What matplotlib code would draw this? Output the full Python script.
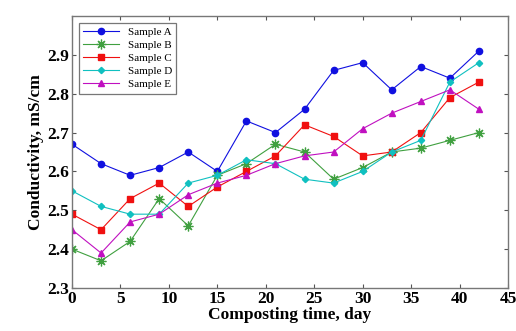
import numpy as np
import matplotlib
matplotlib.use('Agg')
import matplotlib.pyplot as plt

days = [0, 3, 6, 9, 12, 15, 18, 21, 24, 27, 30, 33, 36, 39, 42]
sample_a = [2.67, 2.62, 2.59, 2.61, 2.65, 2.60, 2.73, 2.70, 2.76, 2.86, 2.88, 2.81, 2.87, 2.84, 2.91]
sample_b = [2.40, 2.37, 2.42, 2.53, 2.46, 2.59, 2.62, 2.67, 2.65, 2.58, 2.61, 2.65, 2.66, 2.68, 2.70]
sample_c = [2.49, 2.45, 2.53, 2.57, 2.51, 2.56, 2.60, 2.64, 2.72, 2.69, 2.64, 2.65, 2.70, 2.79, 2.83]
sample_d = [2.55, 2.51, 2.49, 2.49, 2.57, 2.59, 2.63, 2.62, 2.58, 2.57, 2.60, 2.65, 2.68, 2.83, 2.88]
sample_e = [2.45, 2.39, 2.47, 2.49, 2.54, 2.57, 2.59, 2.62, 2.64, 2.65, 2.71, 2.75, 2.78, 2.81, 2.76]

plt.rcParams['font.family'] = ['Liberation Serif', 'DejaVu Serif']

fig = plt.figure(figsize=(5.16, 3.31), dpi=100)
ax = fig.add_axes([72 / 516, 1 - 288 / 331, (508 - 72) / 516, (288 - 16) / 331])

ax.plot(days, sample_a, color='#1010e0', marker='o', ms=4.5, lw=0.8, label='Sample A')
ax.plot(days, sample_b, color='#40a040', marker=(8, 2, 0), ms=7, mew=0.9, lw=0.8, label='Sample B')
ax.plot(days, sample_c, color='#f01010', marker='s', ms=4.5, lw=0.8, label='Sample C')
ax.plot(days, sample_d, color='#10c0c0', marker='D', ms=3.2, lw=0.8, label='Sample D')
ax.plot(days, sample_e, color='#c010c0', marker='^', ms=4.5, lw=0.8, label='Sample E')

ax.set_xlim(0, 45)
ax.set_ylim(2.3, 3.0)
ax.set_xticks(np.arange(0, 46, 5))
ax.set_yticks([2.3, 2.4, 2.5, 2.6, 2.7, 2.8, 2.9])
ax.tick_params(direction='in', top=True, right=True, length=3, color='#555555',
               labelsize=12.5, pad=2)
for lbl in ax.get_xticklabels() + ax.get_yticklabels():
    lbl.set_fontweight('bold')
for sp in ax.spines.values():
    sp.set_color('#777777')
    sp.set_linewidth(1.0)

ax.set_xlabel('Composting time, day', fontsize=12.5, fontweight='bold', labelpad=0)
ax.set_ylabel('Conductivity, mS/cm', fontsize=12.5, fontweight='bold', labelpad=2)

leg = ax.legend(loc='upper left', fontsize=8, frameon=True, fancybox=False,
                edgecolor='#555555', borderaxespad=0.6, handlelength=3.2,
                labelspacing=0.3, borderpad=0.4)
leg.get_frame().set_linewidth(0.9)

fig.savefig('out.png', dpi=100)
